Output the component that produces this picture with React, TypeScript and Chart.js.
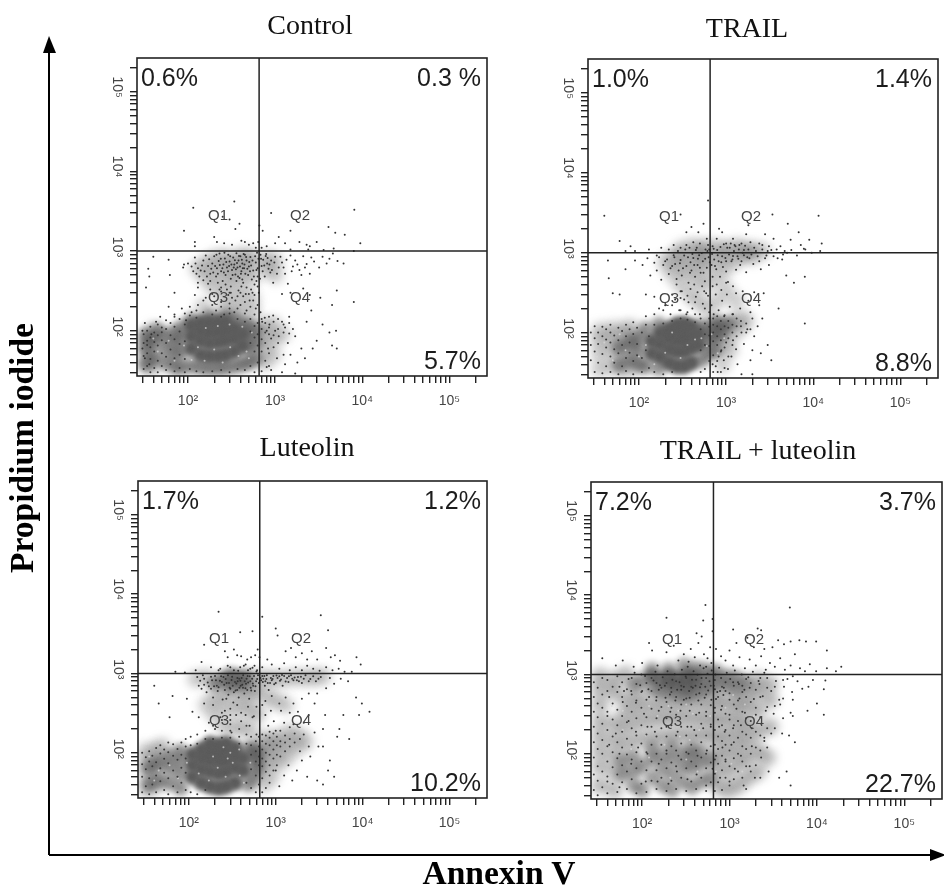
import React, { useEffect, useRef } from "react";
import { Chart, registerables } from "chart.js";

Chart.register(...registerables);

const xTickValues = [30,40,50,60,70,80,90,100,200,300,400,500,600,700,800,900,1000,2000,3000,4000,5000,6000,7000,8000,9000,10000,20000,30000,40000,50000,60000,70000,80000,90000,100000,200000];
const yTickValues = xTickValues;
const decadeLabels: Record<number, string> = { 100: "10²", 1000: "10³", 10000: "10⁴", 100000: "10⁵" };
const xRange = [26, 270000];
const yRange = [27, 266000];
const gateX = 655;
const gateY = 1000;

const titles = ["Control", "TRAIL", "Luteolin", "TRAIL + luteolin"];
const quadrantNames = ["Q1", "Q2", "Q3", "Q4"];
const ulPercent = ["0.6%", "1.0%", "1.7%", "7.2%"];
const urPercent = ["0.3 %", "1.4%", "1.2%", "3.7%"];
const lrPercent = ["5.7%", "8.8%", "10.2%", "22.7%"];

const controlCore = [[110,60],[110,85],[110,115],[140,50],[140,75],[140,100],[140,125],[175,48],[175,70],[175,95],[175,125],[220,48],[220,72],[220,97],[220,128],[270,50],[270,75],[270,100],[270,125],[340,55],[340,80],[340,105],[420,65],[420,90]];
const controlMid = [[33,38],[33,60],[33,85],[40,45],[40,75],[45,100],[55,40],[55,60],[55,85],[70,35],[70,50],[70,70],[70,95],[85,35],[85,55],[85,80],[85,110],[110,36],[140,35],[175,34],[220,34],[270,35],[340,36],[420,38],[500,40],[500,60],[500,85],[500,115],[600,45],[600,70],[600,100],[420,120],[340,140],[270,150],[175,150],[110,135]];
const controlLight = [[33,40],[33,60],[33,85],[40,35],[40,50],[40,75],[40,100],[750,40],[750,60],[750,85],[750,115],[950,50],[950,80],[950,120],[1200,90],[130,600],[160,450],[160,700],[200,350],[200,550],[200,800],[260,280],[260,450],[260,650],[260,850],[330,220],[330,380],[330,550],[330,750],[420,300],[420,500],[420,700],[420,900],[540,250],[540,450],[540,650],[540,850],[800,600],[800,800],[1000,500],[1000,750],[150,200],[250,180],[400,180],[550,170]];
const controlDots = [[115,3500],[90,1800],[250,2700],[340,4200],[300,2500],[350,1900],[390,2200],[200,1500],[215,1300],[120,1300],[120,1150],[260,1250],[320,1200],[410,1350],[450,1300],[500,1200],[560,1250],[600,1100],[640,1300],[660,2100],[720,1800],[900,3000],[1100,1500],[1300,1250],[1500,1800],[1900,1300],[2300,1200],[2500,1150],[4100,2000],[4900,1700],[6300,1600],[8100,3300],[9500,1250],[8000,1000],[3000,1300],[1000,1250],[800,1150],[700,1100],[1500,1050],[2400,1050],[3600,1030],[4700,1080],
[35,600],[36,480],[33,350],[40,850],[60,780],[62,500],[70,300],[88,620],[90,680],[100,700],[110,640],[120,830],[125,520],[130,610],[140,570],[150,760],[160,880],[170,650],[180,520],[190,700],[200,860],[210,480],[215,610],[225,750],[230,930],[240,560],[250,420],[255,680],[265,810],[270,500],[280,620],[290,900],[300,740],[310,450],[320,580],[330,830],[340,680],[350,510],[360,940],[370,620],[380,760],[390,460],[400,860],[410,560],[420,700],[430,400],[440,610],[450,900],[470,760],[490,500],[500,640],[520,840],[540,440],[560,570],[600,720],[620,950],[630,610],[160,260],[180,330],[210,180],[240,230],[260,160],[280,330],[300,190],[320,260],[340,170],[380,320],[400,210],[430,270],[470,180],[510,240],[550,300],[600,190],[630,360],
[680,900],[700,650],[730,780],[760,480],[780,870],[810,700],[840,600],[880,540],[900,760],[950,400],[1000,850],[1100,620],[1200,720],[1300,520],[1400,390],[1500,880],[1600,640],[1700,760],[1900,580],[2100,860],[2300,690],[2500,520],[2800,740],[3200,620],[3500,850],[3900,700],[4200,800],[4600,930],[5200,750],[6100,700],[2100,340],[2500,280],[3300,260],[4500,210],[5100,320],[8000,230],[1500,300],[1200,290],
[680,170],[710,130],[760,145],[800,100],[830,60],[860,120],[900,80],[950,155],[1000,100],[1050,45],[1100,85],[1200,130],[1300,110],[1400,70],[1500,50],[1600,105],[1700,85],[1800,40],[2000,60],[2300,130],[2600,180],[2700,60],[3000,75],[3500,120],[4200,95],[4500,65],[5000,100],[5100,60],[2200,45],[1300,38],[900,32],[800,35],[1200,30],[1700,29],
[30,60],[32,45],[34,75],[36,38],[38,90],[30,100],[32,125],[43,130],[48,150],[50,110],[60,200],[70,160],[85,190],[95,135],[110,170],[130,210]];
const controlFill = [[31,33],[31,48],[31,70],[31,90],[34,36],[34,52],[34,66],[34,100],[37,30],[37,44],[37,62],[37,82],[37,112],[41,34],[41,55],[41,72],[41,95],[45,30],[45,42],[45,65],[45,88],[45,120],[50,36],[50,52],[50,76],[50,96],[56,32],[56,47],[56,70],[56,105],[56,135],[63,38],[63,58],[63,88],[63,125],[70,31],[70,45],[70,78],[70,112],[70,150],[80,34],[80,50],[80,68],[80,98],[80,140],[92,30],[92,44],[92,74],[92,120],[92,165],[105,33],[105,155],[105,200],[125,31],[125,145],[125,180],[150,30],[150,170],[150,240],[190,31],[190,160],[190,210],[190,290],[240,32],[240,150],[240,200],[240,350],[300,30],[300,165],[300,220],[300,300],[370,33],[370,140],[370,190],[370,270],[450,32],[450,130],[450,165],[450,230],[520,36],[520,70],[520,98],[520,140],[520,200],[580,30],[580,55],[580,82],[580,115],[580,160],[580,280],[630,40],[630,65],[630,90],[630,125],[630,210],[700,31],[700,55],[700,78],[700,105],[700,140],[770,42],[770,70],[770,95],[770,125],[850,36],[850,52],[850,90],[850,110],[850,150],[960,62],[960,88],[960,130],[1080,70],[1080,105],[1080,140],[1250,50],[1250,95],[1250,120],[1450,92],[1450,125],[1450,150],[120,280],[130,350],[150,430],[170,390],[200,270],[220,400],[240,310],[290,280],[310,360],[350,240],[400,300],[420,440],[470,350],[500,290],[560,240],[610,420],[650,300]];
const controlCloud = [[115,560],[122,700],[135,480],[145,660],[155,560],[165,480],[175,790],[185,600],[195,540],[205,650],[212,900],[220,520],[232,670],[238,800],[248,610],[258,540],[262,950],[275,730],[288,560],[296,650],[305,860],[315,680],[325,500],[335,620],[345,770],[355,590],[365,710],[375,480],[385,870],[395,640],[405,520],[415,780],[425,610],[435,920],[445,680],[455,520],[465,840],[480,600],[505,730],[515,560],[530,660],[550,760],[570,480],[590,860],[610,580],[645,800],[130,400],[180,420],[230,330],[270,380],[310,300],[360,420],[410,360],[460,290],[530,330],[580,380],[630,480],[670,450],[690,800],[720,560],[750,660],[790,920],[820,820],[860,680],[920,580],[980,720],[1050,520],[1150,850],[1250,620],[1350,780],[1550,560],[1800,680],[2000,500],[2200,620],[2600,830]];
const controlGaps = [[130,62],[155,42],[200,58],[250,40],[305,62],[380,48],[160,108],[90,65],[70,42],[60,75],[45,55],[40,80],[470,55],[540,95],[300,120],[110,43],[420,112],[500,45],[220,115]];

const trailCore = [[140,55],[140,78],[175,50],[175,72],[175,98],[220,42],[220,62],[220,85],[220,110],[270,38],[270,58],[270,80],[270,105],[270,125],[330,38],[330,58],[330,80],[330,105],[330,128],[400,42],[400,65],[400,90],[400,118],[480,70],[480,95]];
const trailMid = [[60,40],[60,65],[80,45],[80,75],[100,40],[100,60],[100,85],[120,38],[120,110],[170,36],[170,125],[520,45],[520,120],[620,55],[620,80],[620,105],[750,60],[750,85],[750,110],[750,135],[900,100],[900,125],[1100,130]];
const trailLight = [[35,35],[35,55],[35,80],[35,105],[48,38],[48,60],[48,85],[48,110],[65,35],[65,60],[65,85],[65,110],[82,36],[82,62],[82,88],[82,115],[900,40],[900,70],[1100,60],[1100,90],[1400,110],[1400,150],[1700,140],[200,750],[240,550],[240,850],[300,400],[300,650],[300,900],[380,300],[380,550],[380,800],[480,250],[480,450],[480,700],[480,950],[600,200],[600,400],[600,650],[600,900],[800,250],[800,500],[800,800],[1000,350],[1000,650],[1000,950],[1300,250],[1300,800],[1600,950],[2000,900],[300,1100],[400,1200],[500,1100],[600,1200],[800,1150],[1000,1100],[1300,1200],[1600,1100],[2000,1100],[2600,1050]];
const trailDots = [[40,2900],[620,4500],[300,3000],[350,1800],[400,2100],[480,1800],[550,2300],[600,1500],[500,1300],[420,1350],[350,1250],[300,1150],[250,1250],[220,1100],[180,1150],[130,1100],[80,1200],[60,1400],[70,1050],[90,1050],[640,1100],[620,1250],[580,1100],[460,1150],[380,1150],[700,1200],[780,1500],[830,2000],[900,1800],[1000,1300],[1100,1150],[1200,1500],[1250,1250],[1400,1100],[1500,1300],[1600,1080],[1700,1700],[1800,2200],[1900,1350],[2100,1150],[2400,1300],[2600,1100],[2800,1700],[3100,1200],[3400,3000],[3500,1500],[3800,1100],[4200,1200],[4700,1050],[5100,2300],[5500,1450],[6800,1800],[7200,1250],[8100,1100],[9000,1450],[11500,2900],[12500,1300],[12000,1050],[3000,1050],[5000,1000],
[90,800],[110,700],[125,850],[135,520],[150,750],[160,600],[170,880],[180,460],[190,700],[210,820],[220,540],[230,640],[250,930],[260,720],[270,470],[285,600],[300,810],[310,520],[330,920],[350,680],[370,420],[390,760],[400,600],[420,860],[440,500],[470,700],[490,930],[510,560],[540,780],[570,440],[600,650],[630,880],[680,700],[700,500],[730,820],[770,620],[800,930],[850,500],[880,760],[920,660],[980,860],[1000,580],[1050,430],[1150,780],[1200,910],[1300,610],[1380,840],[1450,700],[1600,930],[1700,570],[1850,850],[2050,720],[2300,900],[2500,620],[2800,850],[3100,700],[3500,900],[4400,820],[4900,520],[6000,420],[8000,500],
[44,800],[45,480],[50,310],[60,300],[70,620],[120,300],[150,280],[170,200],[200,220],[230,170],[260,260],[290,190],[310,330],[350,170],[370,240],[410,200],[450,280],[500,170],[540,230],[590,310],[640,180],[680,220],[720,170],[760,300],[820,190],[900,250],[950,160],[1020,300],[1100,210],[1200,170],[1300,310],[1450,200],[1550,330],[1800,250],[1900,180],[2100,320],[2400,220],[2700,310],[2600,150],[4000,200],[8000,130],
[700,40],[760,38],[800,32],[820,50],[880,60],[940,45],[1000,75],[1050,35],[1150,50],[1200,80],[1300,62],[1350,40],[1500,100],[1600,72],[1750,110],[1900,45],[2100,90],[2300,120],[2000,60],[2500,55],[3000,70],[3300,45],[1500,30],[2000,30]];
const trailFill = [[28,100],[28,70],[28,45],[31,32],[31,58],[31,85],[31,120],[34,42],[34,72],[34,100],[38,31],[38,54],[38,90],[38,118],[42,38],[42,65],[42,82],[42,110],[47,32],[47,50],[47,75],[47,100],[47,125],[52,42],[52,62],[52,92],[58,30],[58,55],[58,80],[58,115],[64,38],[64,70],[64,105],[71,33],[71,48],[71,90],[71,125],[78,56],[78,75],[78,110],[86,30],[86,44],[86,96],[86,135],[95,52],[95,72],[95,115],[108,32],[108,48],[108,100],[120,60],[120,125],[120,160],[130,36],[130,90],[150,32],[150,125],[150,170],[190,30],[190,130],[190,190],[240,32],[240,140],[240,220],[300,150],[300,190],[300,270],[360,145],[360,180],[360,290],[440,135],[440,170],[440,240],[510,32],[510,60],[510,110],[510,150],[570,35],[570,70],[570,95],[570,130],[570,200],[640,44],[640,68],[640,92],[640,118],[640,150],[710,32],[710,52],[710,78],[710,100],[710,125],[710,150],[790,44],[790,70],[790,90],[790,120],[790,160],[870,32],[870,58],[870,80],[870,110],[870,140],[960,36],[960,65],[960,95],[960,120],[960,165],[1060,50],[1060,85],[1060,115],[1060,140],[1180,70],[1180,100],[1180,125],[1180,170],[1320,90],[1320,120],[1320,150],[1480,120],[1480,140],[1700,100],[1700,130],[1900,110],[2000,150],[240,300],[270,400],[300,330],[330,260],[390,350],[430,400],[470,320],[530,380],[560,330],[620,290],[700,380],[780,400],[880,340],[1000,420],[1200,380]];
const trailCloud = [[160,920],[200,780],[240,680],[255,880],[280,1050],[295,740],[320,640],[340,1100],[365,880],[385,560],[410,960],[430,700],[450,1080],[475,840],[500,650],[525,990],[550,560],[575,840],[610,1050],[650,760],[690,960],[720,1120],[745,680],[790,1080],[820,780],[860,1180],[900,900],[940,1280],[1000,780],[1030,1150],[1080,950],[1130,1300],[1180,820],[1230,1050],[1280,1200],[1350,900],[1420,1250],[1500,780],[1550,1000],[1650,1220],[1750,880],[1800,1100],[1950,950],[2200,1050],[2400,780],[2600,1250],[2900,920],[3300,1080],[3900,850],[4500,950],[5600,1080],[6500,920],[7800,1120],[9600,1000]];
const trailGaps = [[150,40],[200,56],[240,100],[300,48],[360,70],[440,82],[520,85],[600,68],[680,95],[100,50],[120,70],[70,60],[50,45],[60,95],[40,75],[33,50],[800,55],[950,85]];

const luteolinCore = [[110,50],[110,70],[110,95],[140,42],[140,62],[140,85],[140,110],[175,38],[175,58],[175,80],[175,105],[175,130],[220,36],[220,55],[220,78],[220,100],[220,125],[270,38],[270,58],[270,80],[270,105],[270,130],[340,42],[340,65],[340,90],[340,115],[420,60],[420,85]];
const luteolinMid = [[35,40],[35,65],[45,45],[45,75],[60,42],[60,65],[60,90],[80,36],[80,55],[80,78],[80,105],[480,40],[480,110],[560,50],[560,80],[560,110],[620,65],[620,95],[200,760],[250,850],[300,720],[350,900],[400,760],[450,900],[300,950]];
const luteolinLight = [[32,35],[32,55],[32,80],[32,105],[42,38],[42,60],[42,85],[42,110],[50,120],[720,40],[720,65],[720,90],[720,115],[720,145],[900,50],[900,80],[900,115],[900,150],[1100,75],[1100,110],[1100,150],[1400,90],[1400,130],[1400,180],[1800,120],[1800,170],[2200,140],[160,400],[200,300],[200,500],[250,220],[250,400],[250,600],[330,200],[330,350],[330,550],[420,220],[420,400],[420,600],[420,800],[520,180],[520,350],[520,550],[520,750],[620,300],[620,600],[620,900],[800,500],[800,850],[1000,450],[1000,850],[1300,400],[1300,850],[1700,900],[2200,880],[2800,900],[3500,920],[120,850],[160,900]];
const luteolinDots = [[220,6000],[390,3300],[540,3400],[150,2300],[260,1900],[280,1600],[330,2000],[360,1700],[400,1650],[470,1500],[520,1600],[580,1700],[620,2000],[650,1600],[140,1400],[180,1200],[230,1150],[280,1250],[330,1100],[390,1200],[450,1300],[510,1150],[570,1250],[610,1100],[70,1050],[90,1030],[120,1100],[700,5200],[1000,3700],[1050,3000],[3300,5400],[4000,3500],[1300,1900],[1500,2100],[1700,1600],[2000,1800],[2300,1500],[2600,1900],[3000,1500],[3800,2100],[4300,1600],[4800,1700],[5500,1450],[8500,1600],[9500,1300],[700,1200],[800,1500],[900,1300],[1100,1150],[1250,1350],[1450,1100],[1700,1200],[2000,1100],[2300,1250],[2700,1150],[3200,1080],[3800,1200],[4500,1100],[5300,1150],[6200,1050],[7500,1050],
[125,900],[130,700],[140,640],[150,860],[160,580],[165,770],[180,910],[190,500],[195,690],[205,820],[215,600],[235,920],[245,470],[255,720],[265,850],[285,540],[295,660],[315,910],[325,430],[345,610],[365,800],[375,500],[395,700],[405,880],[435,560],[455,740],[475,930],[495,480],[515,660],[535,860],[575,600],[595,800],[625,950],[680,820],[700,930],[750,700],[790,950],[830,620],[880,880],[940,930],[1000,760],[1100,920],[1200,700],[1350,880],[1500,950],[1600,820],[1800,900],[2000,760],[2200,950],[2500,850],[2900,800],[3300,900],[3800,650],[4200,880],[4700,740],[5600,860],[6800,800],[8400,500],[9800,420],[12000,330],[3700,300],[2800,420],[6000,300],[3500,200],[5100,160],[5400,200],[7000,150],[9100,300],
[40,700],[45,420],[60,280],[65,520],[95,480],[110,330],[130,280],[150,420],[170,240],[200,200],[230,280],[260,340],[300,260],[310,180],[350,300],[400,250],[450,300],[500,220],[560,290],[600,170],[700,400],[760,300],[820,220],[880,340],[950,250],[1000,190],[1150,340],[1250,240],[1450,320],[1600,230],[1800,330],[2100,240],[2400,300],[2800,180],[3100,120],[3500,120],[4200,80],[4700,50],
[700,32],[850,42],[1000,60],[1100,38],[1250,52],[1400,70],[1550,45],[1750,60],[2000,80],[2300,50],[2500,90],[3000,45],[3500,40],[4000,60]];
const luteolinFill = [[29,32],[29,50],[29,72],[29,100],[32,38],[32,62],[32,88],[35,30],[35,48],[35,78],[35,105],[38,40],[38,68],[38,92],[42,32],[42,52],[42,76],[42,115],[47,44],[47,64],[47,98],[47,125],[52,34],[52,56],[52,84],[52,110],[58,30],[58,48],[58,74],[58,102],[58,135],[66,38],[66,60],[66,92],[66,128],[74,32],[74,50],[74,82],[74,112],[82,42],[82,65],[82,95],[82,135],[92,34],[92,56],[92,85],[92,120],[92,150],[105,32],[105,125],[105,160],[125,30],[125,130],[125,170],[155,34],[155,150],[155,190],[190,150],[190,220],[240,155],[240,190],[240,260],[300,155],[300,190],[300,230],[300,300],[380,130],[380,160],[380,200],[460,42],[460,130],[460,170],[460,220],[520,36],[520,62],[520,95],[520,125],[520,160],[590,32],[590,52],[590,78],[590,105],[590,140],[640,40],[640,70],[640,90],[640,120],[640,160],[700,48],[700,68],[700,85],[700,110],[700,140],[700,170],[770,36],[770,58],[770,78],[770,100],[770,130],[770,165],[850,52],[850,70],[850,95],[850,125],[850,155],[850,185],[940,60],[940,85],[940,110],[940,140],[940,175],[1030,70],[1030,95],[1030,125],[1030,160],[1130,90],[1130,120],[1130,140],[1130,190],[1280,105],[1280,135],[1280,165],[1450,120],[1450,150],[1450,210],[1650,135],[1650,175],[1900,105],[1900,150],[2100,170],[2400,120],[190,400],[240,320],[270,480],[300,360],[360,400],[400,320],[480,380],[540,280],[600,380],[760,450],[900,520],[1100,420],[1300,500],[1600,420],[2000,480],[2400,560],[3000,560],
[150,720],[180,640],[210,700],[240,780],[260,620],[290,760],[320,700],[340,780],[360,620],[380,860],[420,660],[440,800],[470,620],[510,800],[550,700],[720,860],[760,800],[860,760],[920,850],[1050,880],[1150,840],[1250,930],[1400,780],[1550,860],[1750,820],[1950,910],[2400,800]];
const luteolinCloud = [[135,810],[145,950],[170,690],[185,820],[200,930],[220,670],[228,810],[250,900],[272,760],[282,950],[300,640],[310,830],[330,580],[352,750],[362,880],[382,660],[392,810],[412,720],[422,950],[448,650],[462,860],[482,770],[502,920],[522,610],[545,750],[562,930],[585,690],[612,850],[640,760],[668,880],[710,780],[740,930],[780,850],[810,760],[900,820],[960,730],[1020,940],[1120,810],[1180,960],[1300,790],[1420,920],[1650,890],[1850,800],[2100,860],[2700,920],[3100,860],[220,1100],[300,1200],[370,1080],[430,1250],[480,1100],[540,1180],[600,1060]];
const luteolinGaps = [[130,55],[170,45],[215,65],[265,50],[320,75],[385,52],[190,90],[250,118],[300,100],[380,110],[95,75],[75,48],[60,70],[45,60],[40,45],[35,90],[510,75],[280,85],[430,42]];

const comboCore = [[130,950],[160,850],[200,800],[200,950],[250,750],[250,900],[320,700],[320,850],[320,1000],[400,780],[400,950]];
const comboMid = [[80,750],[100,850],[130,680],[160,620],[200,620],[250,580],[320,560],[400,600],[500,620],[500,850],[600,700],[600,950],[760,850],[950,720],[950,950],[1200,650],[1200,900],[1500,800],[130,1150],[200,1150],[300,1300],[400,1200],[520,1150],[700,1100],[60,55],[60,80],[80,40],[80,60],[80,90],[100,35],[100,70],[130,50],[130,85],[130,115],[170,40],[170,65],[170,95],[220,35],[220,55],[220,85],[220,120],[290,45],[290,70],[290,100],[370,38],[370,65],[370,90],[370,115],[470,45],[470,75],[470,105],[600,50],[600,85]];
const comboLight = [[33,40],[33,70],[33,110],[33,170],[33,260],[33,420],[33,650],[33,950],[48,35],[48,60],[48,95],[48,150],[48,240],[48,600],[48,850],[65,130],[65,210],[65,320],[65,480],[65,1000],[90,150],[90,250],[90,380],[90,550],[125,160],[125,270],[125,420],[170,160],[170,280],[170,430],[230,170],[230,290],[230,450],[310,170],[310,280],[310,440],[420,170],[420,280],[420,450],[560,170],[560,270],[560,430],[730,40],[730,70],[730,110],[730,170],[730,280],[730,450],[730,650],[950,35],[950,60],[950,100],[950,160],[950,260],[950,430],[1250,40],[1250,75],[1250,120],[1250,190],[1250,300],[1250,450],[1600,50],[1600,90],[1600,150],[1600,240],[1600,420],[1600,620],[2100,60],[2100,110],[2100,190],[2100,350],[2100,600],[2100,850],[2900,220],[2900,480],[2900,750],[2700,90]];
const comboDots = [[530,7500],[190,5200],[500,4800],[640,5000],[640,3500],[420,3300],[480,3000],[120,2500],[130,2000],[190,1900],[230,2300],[300,1800],[360,2100],[440,2500],[510,1800],[560,1600],[600,2200],[620,1400],[35,1600],[50,1300],[60,1500],[80,1250],[100,1400],[150,1300],[260,1500],[340,1450],[400,1650],[460,1300],[540,1250],[4900,7000],[2100,3800],[2300,3600],[1100,3700],[1200,2500],[1600,2900],[1900,2200],[2500,2100],[3100,2200],[3600,2700],[4200,2400],[5000,2600],[6300,2700],[7500,2600],[9800,2600],[13000,2000],[13000,1200],[19000,1250],[16500,1100],[700,2100],[800,1700],[900,1500],[1000,2000],[1100,1300],[1300,1650],[1500,1200],[1700,1550],[2000,1300],[2300,1700],[2600,1150],[2900,1400],[3300,1250],[3800,1600],[4300,1150],[5000,1300],[5600,1800],[6400,1200],[7300,1100],[8300,1350],[9800,1100],
[40,850],[42,520],[55,700],[60,450],[75,620],[85,440],[100,620],[120,520],[145,470],[160,730],[185,510],[215,680],[240,470],[280,640],[300,480],[350,510],[380,680],[440,470],[460,690],[520,510],[570,630],[620,480],[680,650],[700,490],[780,620],[850,550],[900,800],[1000,480],[1100,800],[1300,500],[1400,720],[1700,680],[1900,490],[2200,760],[2400,530],[2700,900],[3000,620],[3400,830],[3700,480],[4200,700],[4600,880],[5200,600],[6000,820],[6800,660],[8000,700],[9000,850],[12000,650],[12500,840],[10000,430],[7800,350],[5000,330],[3800,420],[3200,320],[2600,350],[12000,310],
[40,300],[50,180],[70,260],[85,190],[105,320],[115,220],[140,190],[155,350],[190,220],[210,340],[255,190],[275,350],[330,220],[350,350],[395,200],[450,330],[500,210],[540,340],[610,220],[680,330],[760,220],[800,360],[880,190],[1000,310],[1100,210],[1200,370],[1350,230],[1500,330],[1800,210],[2000,310],[2300,240],[2500,160],[3000,180],[4000,180],[4800,170],[5600,140],[4500,60],[3700,50],[5000,40],
[40,45],[42,130],[55,100],[55,38],[75,75],[90,120],[110,45],[115,100],[150,45],[155,75],[190,110],[200,42],[250,60],[260,95],[330,48],[340,100],[420,55],[430,95],[540,40],[550,110],[640,65],[700,95],[780,50],[830,120],[900,80],[1000,45],[1050,130],[1150,65],[1350,95],[1450,40],[1700,70],[1800,125],[1950,50],[2300,90],[2500,145],[2800,60]];
const comboFill = [[28,35],[28,55],[28,90],[28,140],[28,220],[28,340],[28,520],[28,800],[31,30],[31,46],[31,70],[31,115],[31,180],[31,290],[31,430],[31,680],[35,38],[35,60],[35,100],[35,150],[35,240],[35,380],[35,560],[35,900],[40,32],[40,52],[40,80],[40,125],[40,200],[40,340],[40,620],[46,42],[46,68],[46,105],[46,165],[46,270],[46,430],[46,700],[52,33],[52,55],[52,88],[52,140],[52,230],[52,360],[52,600],[52,950],[59,44],[59,72],[59,120],[59,190],[59,300],[59,520],[59,800],[67,36],[67,60],[67,98],[67,155],[67,250],[67,400],[67,650],[76,48],[76,85],[76,130],[76,210],[76,340],[76,560],[76,900],[86,32],[86,66],[86,105],[86,170],[86,280],[86,470],[86,760],[98,42],[98,80],[98,135],[98,230],[98,380],[98,600],[98,1000],[112,33],[112,62],[112,105],[112,175],[112,290],[112,480],[112,780],[128,46],[128,80],[128,130],[128,220],[128,370],[128,620],[128,900],[146,36],[146,62],[146,100],[146,165],[146,280],[146,520],[146,780],[166,50],[166,85],[166,130],[166,210],[166,390],[166,680],[190,34],[190,66],[190,100],[190,165],[190,280],[190,450],[190,780],[216,46],[216,78],[216,125],[216,230],[216,380],[216,600],[245,36],[245,70],[245,110],[245,170],[245,310],[245,520],[245,820],[280,50],[280,85],[280,135],[280,220],[280,420],[280,720],[320,34],[320,66],[320,105],[320,170],[320,300],[320,500],[320,900],[365,45],[365,80],[365,130],[365,220],[365,420],[365,700],[415,36],[415,70],[415,110],[415,170],[415,310],[415,560],[415,860],[475,50],[475,90],[475,140],[475,240],[475,420],[475,760],[540,34],[540,66],[540,100],[540,170],[540,300],[540,560],[540,900],[610,44],[610,78],[610,125],[610,235],[610,410],[610,720],[680,34],[680,56],[680,85],[680,130],[680,200],[680,380],[680,850],[740,44],[740,75],[740,115],[740,165],[740,270],[740,520],[820,35],[820,62],[820,95],[820,145],[820,230],[820,400],[820,700],[900,50],[900,85],[900,130],[900,200],[900,320],[900,620],[1000,40],[1000,70],[1000,110],[1000,170],[1000,270],[1000,580],[1120,48],[1120,88],[1120,140],[1120,230],[1120,420],[1120,720],[1250,60],[1250,100],[1250,160],[1250,260],[1250,470],[1250,800],[1400,50],[1400,80],[1400,125],[1400,190],[1400,340],[1400,600],[1550,36],[1550,70],[1550,115],[1550,175],[1550,280],[1550,520],[1550,880],[1750,60],[1750,100],[1750,160],[1750,260],[1750,450],[1750,780],[2000,72],[2000,120],[2000,190],[2000,380],[2000,640],[2250,50],[2250,110],[2250,170],[2250,290],[2250,520],[2250,900],[2700,120],[2700,210],[2700,390],[2700,680],[3300,210],[3300,400],[3300,700],[4100,280],[4100,500],[4100,850],[5300,300],[5300,480],[5300,950]];
const comboCloud = [[62,620],[70,880],[82,1050],[95,730],[108,960],[118,650],[135,840],[142,1080],[155,640],[172,920],[182,720],[195,1100],[208,560],[222,860],[236,1010],[252,640],[268,800],[285,1150],[300,700],[315,940],[332,1250],[345,620],[372,860],[388,1100],[408,720],[430,990],[452,580],[478,900],[505,1200],[528,700],[560,1020],[590,820],[625,1120],[660,720],[690,1000],[725,600],[760,1220],[800,900],[860,680],[930,1050],[1020,880],[1150,1120],[1280,760],[1380,1000],[1480,640],[1640,920],[1850,1080],[2150,830],[2500,1050]];
const comboGaps = [[120,400],[150,300],[200,400],[260,350],[320,420],[380,320],[60,350],[45,400],[110,170],[180,130],[270,165],[350,150],[450,200],[600,300],[900,380],[1100,550],[1500,420],[1900,300],[120,90],[210,50],[320,85],[430,60],[700,60],[1050,75],[1400,60],[75,115],[60,200]];

const panelCore = [controlCore, trailCore, luteolinCore, comboCore];
const panelMid = [controlMid, trailMid, luteolinMid, comboMid];
const panelLight = [controlLight, trailLight, luteolinLight, comboLight];
const panelDots = [controlDots, trailDots, luteolinDots, comboDots];
const panelFill = [controlFill, trailFill, luteolinFill, comboFill];
const panelCloud = [controlCloud, trailCloud, luteolinCloud, comboCloud];
const panelGaps = [controlGaps, trailGaps, luteolinGaps, comboGaps];

// plot frames in page pixels: left, top, width, height
const frames = [
  [137, 58, 350, 318],
  [588, 59, 350, 319],
  [138, 481, 349, 317],
  [591, 482, 351, 317],
];
const titlePos = [[310, 25], [747, 28], [307, 447], [758, 450]];
const GUTTER_L = 40, GUTTER_T = 30, GUTTER_B = 46, GUTTER_R = 1;

const toXY = (a: number[][]) => a.map(([x, y]) => ({ x, y }));

const framePlugin = {
  id: "frame",
  beforeDatasetDraw(c: any, args: any) {
    const blur = c.data.datasets[args.index].blurPx;
    if (blur) {
      c.ctx.save();
      c.ctx.filter = `blur(${blur}px)`;
    }
  },
  afterDatasetDraw(c: any, args: any) {
    if (c.data.datasets[args.index].blurPx) c.ctx.restore();
  },
  afterDatasetsDraw(c: any) {
    const { left, top, width, height } = c.chartArea;
    c.ctx.save();
    c.ctx.strokeStyle = "#222";
    c.ctx.lineWidth = 1.6;
    c.ctx.strokeRect(left, top, width, height);
    c.ctx.restore();
  },
};

function Panel({ index }: { index: number }) {
  const ref = useRef<HTMLCanvasElement>(null);
  const [l, t, w, h] = frames[index];
  useEffect(() => {
    const dot = (data: number[][], color: string, r: number, order: number, blurPx = 0) => ({
      type: "scatter" as const,
      data: toXY(data),
      backgroundColor: color,
      borderWidth: 0,
      pointRadius: r,
      pointHoverRadius: r,
      order,
      blurPx,
    });
    const gate = (data: number[][]) => ({
      type: "scatter" as const,
      data: toXY(data),
      showLine: true,
      borderColor: "#222",
      borderWidth: 1.5,
      pointRadius: 0,
      order: 0,
    });
    const scale = (range: number[], values: number[], horizontal: boolean) => ({
      type: "logarithmic" as const,
      min: range[0],
      max: range[1],
      afterBuildTicks: (s: any) => {
        s.ticks = values.map((v) => ({ value: v, major: v in decadeLabels }));
      },
      afterFit: (s: any) => {
        if (horizontal) s.height = GUTTER_B;
        else s.width = GUTTER_L;
      },
      grid: { drawOnChartArea: false, drawTicks: true, tickLength: 7, color: "#222", lineWidth: 1.4 },
      border: { display: false },
      ticks: {
        autoSkip: false,
        minRotation: horizontal ? 0 : -90,
        maxRotation: horizontal ? 0 : -90,
        padding: horizontal ? 10 : 13,
        labelOffset: horizontal ? 0 : 6,
        color: "#444",
        font: { family: "Liberation Sans", size: 14 },
        callback: (v: number) => decadeLabels[v] ?? "",
      },
    });
    const combo = index === 3;
    const chart = new Chart(ref.current!, {
      type: "scatter",
      data: {
        datasets: [
          gate([[gateX, yRange[0]], [gateX, yRange[1]]]),
          gate([[xRange[0], gateY], [xRange[1], gateY]]),
          dot(panelDots[index], "#333", 1, 1),
          dot(panelFill[index], "#3a3a3a", 1, 2),
          dot(panelCloud[index], "#333", 1, 2),
          dot(panelGaps[index], "rgba(215,215,215,0.75)", 1, 3),
          dot(panelCore[index], combo ? "rgba(85,85,85,0.7)" : "#5c5c5c", 8, 4, 2.5),
          dot(panelMid[index], combo ? "rgba(85,85,85,0.55)" : "rgba(85,85,85,0.62)", 8, 5, 3),
          dot(panelLight[index], combo ? "rgba(90,90,90,0.4)" : "rgba(100,100,100,0.3)", 9, 6, 4),
        ],
      },
      options: {
        responsive: false,
        animation: false,
        layout: { autoPadding: false, padding: { left: 0, top: GUTTER_T, right: GUTTER_R, bottom: 0 } },
        plugins: { legend: { display: false }, tooltip: { enabled: false } },
        scales: { x: scale(xRange, xTickValues, true), y: scale(yRange, yTickValues, false) },
      },
      plugins: [framePlugin],
    } as any);
    return () => chart.destroy();
  }, [index]);
  return (
    <canvas
      ref={ref}
      width={w + GUTTER_L + GUTTER_R}
      height={h + GUTTER_T + GUTTER_B}
      style={{ position: "absolute", left: l - GUTTER_L, top: t - GUTTER_T }}
    />
  );
}

const sans: React.CSSProperties = { position: "absolute", fontFamily: "'Liberation Sans'", whiteSpace: "nowrap", lineHeight: 1, color: "#1c1c1c" };
const serif: React.CSSProperties = { position: "absolute", fontFamily: "'Liberation Serif'", whiteSpace: "nowrap", lineHeight: 1, color: "#111" };

export default function App() {
  return (
    <div style={{ position: "absolute", left: 0, top: 0, width: 944, height: 887, overflow: "hidden", background: "#fff" }}>
      {frames.map((_, i) => <Panel key={i} index={i} />)}
      <svg width={944} height={887} style={{ position: "absolute", left: 0, top: 0 }}>
        <path d="M49 855 V48 M49 855 H936" stroke="#000" strokeWidth={2} fill="none" />
        <path d="M49 36 L43 53 L56 53 Z" fill="#000" />
        <path d="M946 855 L930 849 L930 861 Z" fill="#000" />
      </svg>
      {frames.map(([l, t, w, h], i) => (
        <React.Fragment key={i}>
          <div style={{ ...serif, left: titlePos[i][0], top: titlePos[i][1], fontSize: 28, transform: "translate(-50%,-50%)" }}>{titles[i]}</div>
          <div style={{ ...sans, left: l + 4, top: t + 7, fontSize: 25 }}>{ulPercent[i]}</div>
          <div style={{ ...sans, right: 944 - (l + w - 6), top: t + 7, fontSize: 25 }}>{urPercent[i]}</div>
          <div style={{ ...sans, right: 944 - (l + w - 6), top: t + h - 28, fontSize: 25 }}>{lrPercent[i]}</div>
          {quadrantNames.map((q, k) => (
            <div key={q} style={{ ...sans, left: l + (k % 2 ? 163 : 81), top: t + (k < 2 ? 156 : 238), fontSize: 15, color: "#444", transform: "translate(-50%,-50%)" }}>{q}</div>
          ))}
        </React.Fragment>
      ))}
      <div style={{ ...serif, left: 22, top: 448, fontSize: 33.5, fontWeight: 700, color: "#000", transform: "translate(-50%,-50%) rotate(-90deg)" }}>Propidium iodide</div>
      <div style={{ ...serif, left: 499, top: 873, fontSize: 33.5, fontWeight: 700, color: "#000", transform: "translate(-50%,-50%)" }}>Annexin V</div>
    </div>
  );
}
